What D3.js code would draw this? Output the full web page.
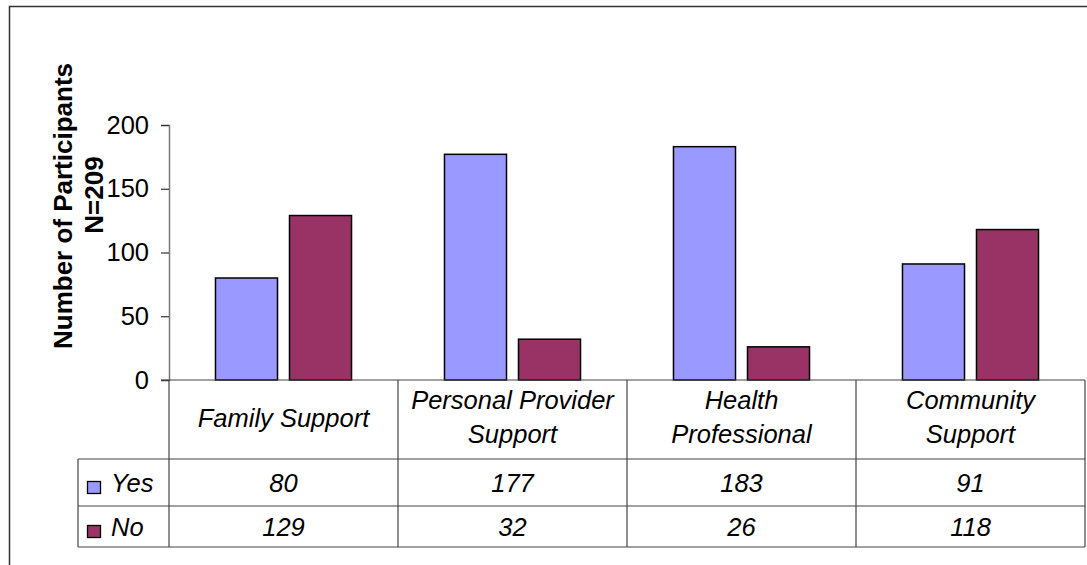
<!DOCTYPE html>
<html>
<head>
<meta charset="utf-8">
<script src="https://cdn.jsdelivr.net/npm/d3@7"></script>
<style>
  body { margin: 0; background: #fff; }
  text { font-family: Arial, "Liberation Sans", sans-serif; fill: #000; }
</style>
</head>
<body>
<div id="chart"></div>
<script>
const categories = [["Family Support"], ["Personal Provider", "Support"], ["Health", "Professional"], ["Community", "Support"]];
const seriesNames = ["Yes", "No"];
const yesValues = [80, 177, 183, 91];
const noValues = [129, 32, 26, 118];
const yTicks = [0, 50, 100, 150, 200];

const width = 1087, height = 565;
const colors = { Yes: "#9999ff", No: "#993366" };
const fontSize = "25.5px";

const svg = d3.select("#chart").append("svg")
    .attr("width", width)
    .attr("height", height);

// outer frame
svg.append("path")
    .attr("d", "M9.5,570 V6.5 H1100")
    .attr("fill", "none")
    .attr("stroke", "#333")
    .attr("stroke-width", 1.5);

const plotLeft = 169, plotRight = 1085, plotTop = 125, plotBottom = 380;
const headBottom = 459, yesBottom = 506, noBottom = 547, legendLeft = 78;

const x = d3.scaleBand()
    .domain(d3.range(categories.length))
    .range([plotLeft, plotRight]);

const xInner = d3.scaleBand()
    .domain(seriesNames)
    .range([0, x.bandwidth()])
    .paddingInner(0.162)
    .paddingOuter(0.628);

const y = d3.scaleLinear()
    .domain([0, 200])
    .range([plotBottom, plotTop]);

// y axis
const yAxis = svg.append("g")
    .attr("transform", "translate(" + plotLeft + ",0)")
    .call(d3.axisLeft(y).tickValues(yTicks).tickSize(8).tickPadding(12));
yAxis.select(".domain").attr("stroke", "#777").attr("stroke-width", 1.5);
yAxis.selectAll(".tick line").attr("stroke", "#333").attr("stroke-width", 1.2);
yAxis.selectAll(".tick text")
    .style("font-size", fontSize)
    .style("font-family", "Arial, 'Liberation Sans', sans-serif")
    .attr("fill", "#000");

// y label
svg.append("text")
    .attr("transform", "translate(72,206) rotate(-90)")
    .attr("text-anchor", "middle")
    .style("font-size", "26px")
    .style("font-weight", "bold")
    .text("Number of Participants");
svg.append("text")
    .attr("transform", "translate(103,195) rotate(-90)")
    .attr("text-anchor", "middle")
    .style("font-size", "26px")
    .style("font-weight", "bold")
    .text("N=209");

// bars
const rows = categories.map(function (c, i) {
  return { i: i, Yes: yesValues[i], No: noValues[i] };
});

const groups = svg.selectAll(".group")
    .data(rows)
    .enter().append("g")
    .attr("class", "group")
    .attr("transform", function (d) { return "translate(" + x(d.i) + ",0)"; });

groups.selectAll("rect")
    .data(function (d) { return seriesNames.map(function (s) { return { key: s, value: d[s] }; }); })
    .enter().append("rect")
    .attr("x", function (d) { return xInner(d.key); })
    .attr("y", function (d) { return y(d.value); })
    .attr("width", xInner.bandwidth())
    .attr("height", function (d) { return y(0) - y(d.value); })
    .attr("fill", function (d) { return colors[d.key]; })
    .attr("stroke", "#000")
    .attr("stroke-width", 1.5);

// data table grid
const grid = svg.append("g")
    .attr("stroke", "#444")
    .attr("stroke-width", 1.2)
    .attr("fill", "none");

grid.append("line").attr("x1", plotLeft - 8).attr("x2", plotRight).attr("y1", plotBottom).attr("y2", plotBottom);
[headBottom, yesBottom, noBottom].forEach(function (yy) {
  grid.append("line").attr("x1", legendLeft).attr("x2", plotRight).attr("y1", yy).attr("y2", yy);
});
grid.append("line").attr("x1", legendLeft).attr("x2", legendLeft).attr("y1", headBottom).attr("y2", noBottom);
x.domain().forEach(function (i) {
  grid.append("line").attr("x1", x(i)).attr("x2", x(i)).attr("y1", plotBottom).attr("y2", noBottom);
});
grid.append("line").attr("x1", plotRight).attr("x2", plotRight).attr("y1", plotBottom).attr("y2", noBottom);

// category labels
const catLabels = svg.selectAll(".cat")
    .data(categories)
    .enter().append("text")
    .attr("class", "cat")
    .attr("text-anchor", "middle")
    .style("font-size", fontSize)
    .style("font-style", "italic");

catLabels.each(function (lines, i) {
  const t = d3.select(this);
  const cx = x(i) + x.bandwidth() / 2;
  const startY = lines.length === 1 ? 427 : 409;
  lines.forEach(function (line, j) {
    t.append("tspan")
        .attr("x", cx)
        .attr("y", startY + j * 34)
        .text(line);
  });
});

// value rows + legend keys
const valueRows = [
  { name: "Yes", values: yesValues, base: 492 },
  { name: "No", values: noValues, base: 536 }
];

valueRows.forEach(function (r) {
  svg.selectAll(".v" + r.name)
      .data(r.values)
      .enter().append("text")
      .attr("x", function (d, i) { return x(i) + x.bandwidth() / 2; })
      .attr("y", r.base)
      .attr("text-anchor", "middle")
      .style("font-size", fontSize)
      .style("font-style", "italic")
      .text(function (d) { return d; });

  svg.append("rect")
      .attr("x", 87.5)
      .attr("y", r.base - 10.5)
      .attr("width", 13)
      .attr("height", 12)
      .attr("fill", colors[r.name])
      .attr("stroke", "#000")
      .attr("stroke-width", 1.3);

  svg.append("text")
      .attr("x", 111)
      .attr("y", r.base)
      .style("font-size", fontSize)
      .style("font-style", "italic")
      .text(r.name);
});
</script>
</body>
</html>
